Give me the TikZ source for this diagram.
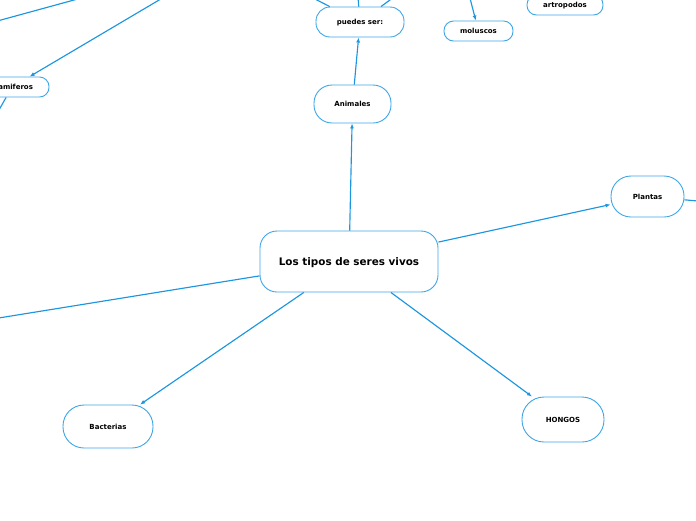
\documentclass[tikz,border=0pt]{standalone}
\usepackage{fontspec}
\setmainfont{DejaVu Sans}
\usetikzlibrary{arrows.meta, positioning}
\definecolor{mapablue}{RGB}{28, 150, 224}
\definecolor{mapaedge}{RGB}{62, 166, 230}
\tikzset{
  idea/.style={
    draw=mapaedge,
    line width=0.9pt,
    fill=white,
    inner sep=1pt,
    text=black,
    text depth=-1.5pt,
    font=\fontsize{7}{8}\selectfont\bfseries
  },
  central/.style={
    idea,
    rounded corners=17pt,
    text depth=-3.5pt,
    font=\fontsize{10.4}{12}\selectfont\bfseries
  },
  pill/.style={
    idea,
    rounded corners=#1
  },
  link/.style={
    -{Latex[length=5pt, width=4pt]},
    line width=1.15pt,
    draw=mapablue
  },
  tail/.style={
    line width=1.15pt,
    draw=mapablue
  }
}

\begin{document}
\begin{tikzpicture}[x=1pt, y=-1pt]
  \useasboundingbox (0,0) rectangle (696,520);

  \node[central, minimum width=178pt, minimum height=61pt] (seres) at (349, 261.5) {Los tipos de seres vivos};
  \node[pill=18pt, minimum width=77pt, minimum height=38pt] (animales) at (352.5, 104) {Animales};
  \node[pill=14pt, minimum width=88pt, minimum height=30pt] (puedes) at (360, 22) {puedes ser:};
  \node[pill=9.5pt, minimum width=69pt, minimum height=20pt] (moluscos) at (478.5, 31) {moluscos};
  \node[pill=9.5pt, minimum width=76pt, minimum height=20pt] (artropodos) at (565, 5) {artropodos};
  \node[pill=9.5pt, minimum width=74pt, minimum height=20pt] (mamiferos) at (12, 87) {mamiferos};
  \node[pill=20pt, minimum width=73pt, minimum height=41pt] (plantas) at (647.5, 196.5) {Plantas};
  \node[pill=21pt, minimum width=90pt, minimum height=43pt] (bacterias) at (108, 426.5) {Bacterias};
  \node[pill=22pt, minimum width=82pt, minimum height=45pt] (hongos) at (563, 419.5) {HONGOS};

  % free ends beyond the page
  \coordinate (izq) at (-20, 321);
  \coordinate (pl-der) at (720, 203);
  \coordinate (pu-izq) at (262, -28);
  \coordinate (pu-mid) at (355, -40);
  \coordinate (pu-der) at (428, -28);
  \coordinate (mo-arr) at (465, -21);
  \coordinate (ma-arr) at (198, -23);
  \coordinate (ma-abj) at (-5, 117);
  \coordinate (esq-a) at (-10, 23);
  \coordinate (esq-b) at (85, -3);

  \path (seres) edge[link] (animales)
        (animales) edge[link] (puedes)
        (seres) edge[link] (plantas)
        (seres) edge[link] (bacterias)
        (seres) edge[link] (hongos)
        (seres) edge[tail] (izq)
        (plantas) edge[tail] (pl-der)
        (puedes) edge[tail] (pu-izq)
        (puedes) edge[tail] (pu-mid)
        (puedes) edge[tail] (pu-der)
        (mo-arr) edge[link] (moluscos)
        (ma-arr) edge[link] (mamiferos)
        (mamiferos) edge[tail] (ma-abj)
        (esq-a) edge[tail] (esq-b);
\end{tikzpicture}
\end{document}
